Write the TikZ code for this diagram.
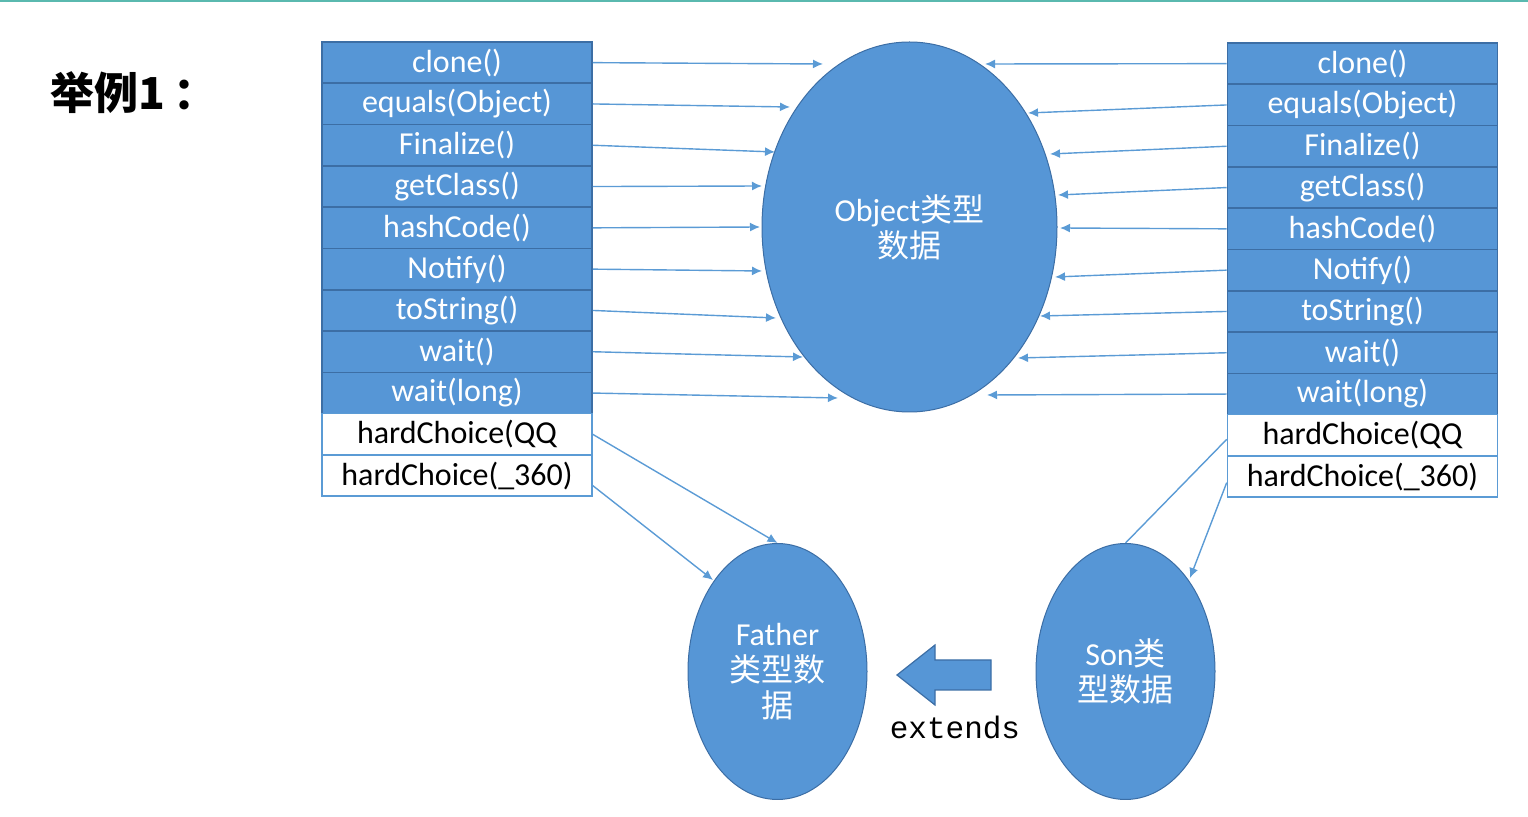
\documentclass[tikz,border=0pt]{standalone}
\usepackage{fontspec}
\setmainfont{Carlito}
\newfontfamily\cjk{Noto Sans CJK SC}
\newfontfamily\mono{Liberation Mono}
\usetikzlibrary{arrows.meta,shapes.geometric}
\definecolor{cellblue}{RGB}{86,150,214}
\definecolor{cellline}{RGB}{60,110,165}
\definecolor{arrowblue}{RGB}{91,155,213}
\definecolor{topline}{RGB}{90,185,175}
\tikzset{
  cellb/.style={draw=cellline, fill=cellblue, text=white, minimum width=135pt, minimum height=20.65pt, inner sep=0pt, font=\fontsize{16}{16}\selectfont, line width=0.8pt},
  cellw/.style={draw=arrowblue, fill=white, text=black, minimum width=135pt, minimum height=20.65pt, inner sep=0pt, font=\fontsize{16}{16}\selectfont, line width=0.8pt},
  conn/.style={draw=arrowblue, line width=0.7pt, -{Latex[length=5pt,width=4.5pt]}},
  plainconn/.style={draw=arrowblue, line width=0.7pt},
  oval/.style={ellipse, fill=cellblue, draw=cellline, line width=0.5pt, inner sep=0pt, text=white, align=center, font=\fontsize{16}{18}\selectfont},
}
\begin{document}
\begin{tikzpicture}[x=0.5pt,y=-0.5pt]
\useasboundingbox (0,0) rectangle (1528,817);
\fill[topline] (0,0) rectangle (1528,2);
\node[font=\cjk\bfseries\fontsize{22}{22}\selectfont, anchor=west, inner sep=0pt] (title) at (50,93) {举例1\hspace{4pt}：};
% tables
\foreach [count=\i] \t in {clone(),equals(Object),Finalize(),getClass(),hashCode(),Notify(),toString(),wait(),wait(long)} {
  \node[cellb] (L\i) at (457,{42+41.3*(\i-0.5)}) {\t};
  \node[cellb] (R\i) at (1362.5,{43+41.3*(\i-0.5)}) {\t};
}
\node[cellw] (L10) at (457,{42+41.3*9.5}) {hardChoice(QQ};
\node[cellw] (L11) at (457,{42+41.3*10.5}) {hardChoice(\_360)};
\node[cellw] (R10) at (1362.5,{43+41.3*9.5}) {hardChoice(QQ};
\node[cellw] (R11) at (1362.5,{43+41.3*10.5}) {hardChoice(\_360)};
% ellipses
\node[oval, minimum width=147.5pt, minimum height=185pt] (obj) at (909.5,227) {Object{\cjk 类型}\\{\cjk 数据}};
\node[oval, minimum width=89.5pt, minimum height=128pt] (father) at (777.5,671.5) {Father\\{\cjk 类型数}\\{\cjk 据}};
\node[oval, minimum width=89.5pt, minimum height=128pt] (son) at (1125.5,671.5) {Son{\cjk 类}\\{\cjk 型数据}};
% block arrow
\filldraw[fill=cellblue, draw=cellline, line width=0.6pt] (897,675) -- (935,645) -- (935,660) -- (991,660) -- (991,690) -- (935,690) -- (935,705) -- cycle;
\node[font=\mono\fontsize{15.5}{15.5}\selectfont] (ext) at (955,727) {extends};
% end points on Object ellipse
\coordinate (a1) at (823,64);
\coordinate (a2) at (790,107);
\coordinate (a3) at (775,152);
\coordinate (a4) at (762,186);
\coordinate (a5) at (760,227);
\coordinate (a6) at (762,271);
\coordinate (a7) at (776,318);
\coordinate (a8) at (803,357);
\coordinate (a9) at (838,398);
\coordinate (b1) at (985,64);
\coordinate (b2) at (1028,113);
\coordinate (b3) at (1050,154);
\coordinate (b4) at (1058,195);
\coordinate (b5) at (1060,228);
\coordinate (b6) at (1055,277);
\coordinate (b7) at (1040,316);
\coordinate (b8) at (1018,358);
\coordinate (b9) at (987,395);
\foreach \i in {1,...,9} {
  \draw[conn] (L\i.east) -- (a\i);
  \draw[conn] (R\i.west) -- (b\i);
}
\coordinate (f2) at (713,580);
\coordinate (s2) at (1190,578);
\draw[conn] (L10.east) -- (father.north);
\draw[conn] ([yshift=-5pt]L11.east) -- (f2);
\draw[plainconn] ([yshift=-2pt]R10.west) -- (son.north);
\draw[conn] ([yshift=-3pt]R11.west) -- (s2);
\end{tikzpicture}
\end{document}
